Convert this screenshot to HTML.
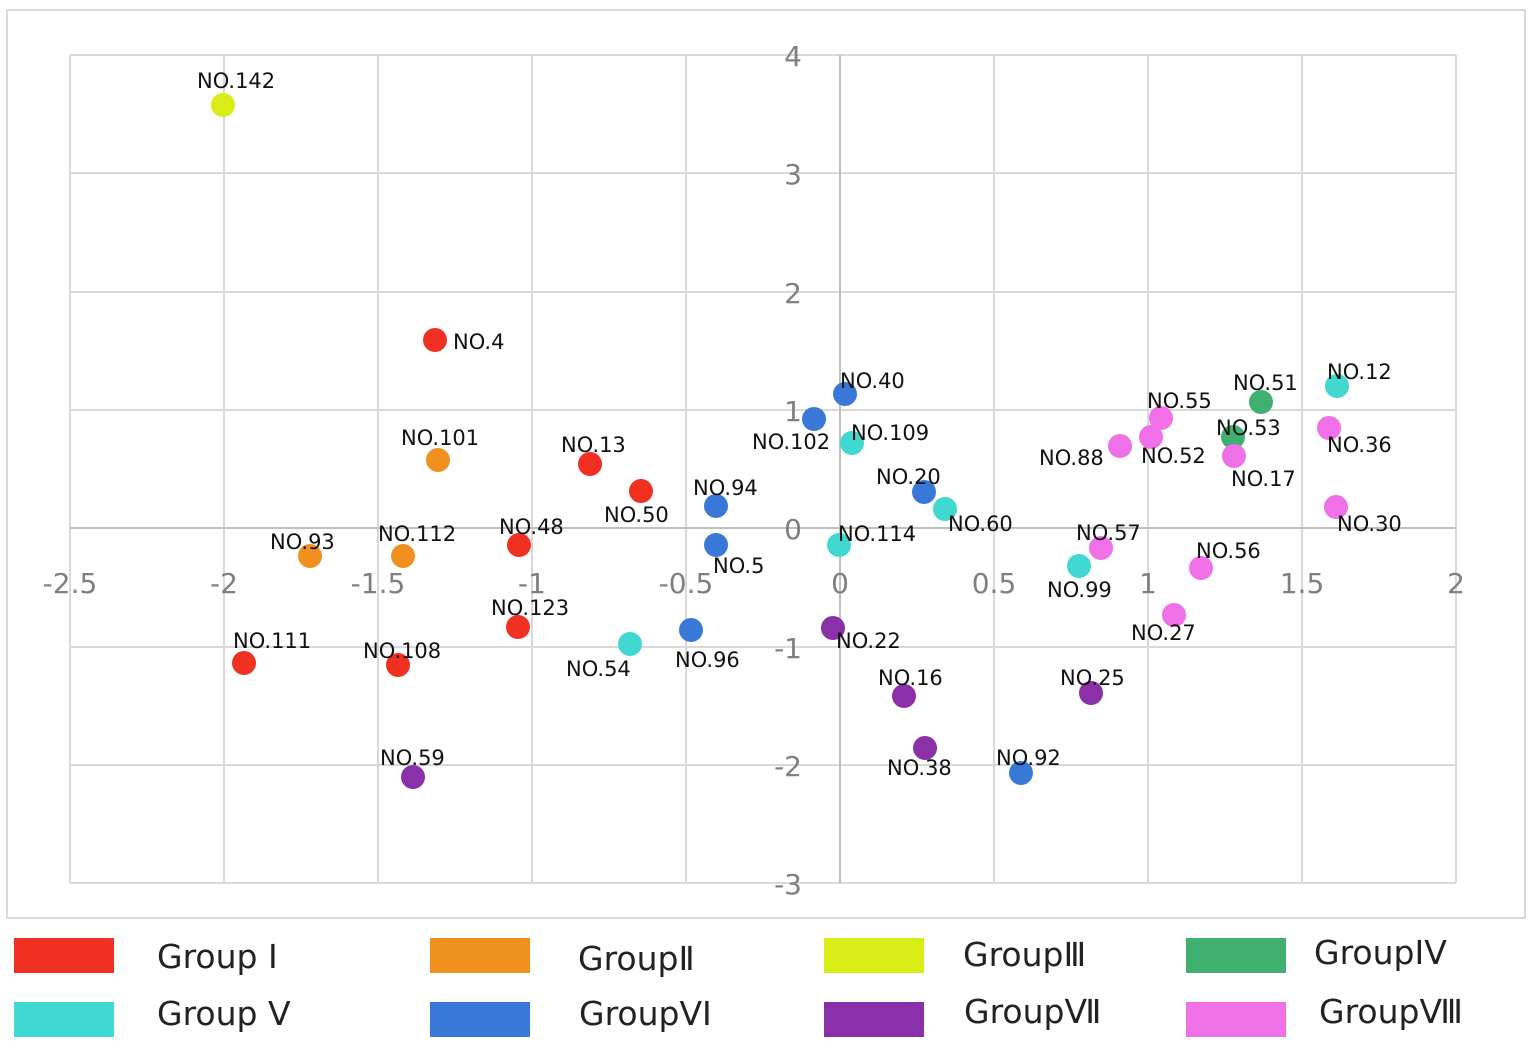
<!DOCTYPE html>
<html><head><meta charset="utf-8"><style>
html,body{margin:0;padding:0;background:#fff;}
svg{display:block;font-family:"DejaVu Sans","Noto Sans CJK SC",sans-serif;}
</style></head><body>
<svg width="1535" height="1044" viewBox="0 0 1535 1044" xmlns="http://www.w3.org/2000/svg">
<rect x="7" y="10" width="1518" height="908" fill="#fff" stroke="#d9d9d9" stroke-width="2"/>
<g stroke="#d9d9d9" stroke-width="2">
<line x1="70" y1="55" x2="70" y2="883"/><line x1="224" y1="55" x2="224" y2="883"/><line x1="378" y1="55" x2="378" y2="883"/><line x1="532" y1="55" x2="532" y2="883"/><line x1="686" y1="55" x2="686" y2="883"/><line x1="994" y1="55" x2="994" y2="883"/><line x1="1148" y1="55" x2="1148" y2="883"/><line x1="1302" y1="55" x2="1302" y2="883"/><line x1="1456" y1="55" x2="1456" y2="883"/>
<line x1="70" y1="55" x2="1456" y2="55"/><line x1="70" y1="173" x2="1456" y2="173"/><line x1="70" y1="292" x2="1456" y2="292"/><line x1="70" y1="410" x2="1456" y2="410"/><line x1="70" y1="647" x2="1456" y2="647"/><line x1="70" y1="765" x2="1456" y2="765"/><line x1="70" y1="883" x2="1456" y2="883"/>
</g>
<g stroke="#bfbfbf" stroke-width="2"><line x1="840" y1="55" x2="840" y2="883"/><line x1="70" y1="528" x2="1456" y2="528"/></g>
<g fill="#7f7f7f" font-size="28" text-anchor="middle">
<text x="70" y="593">-2.5</text><text x="224" y="593">-2</text><text x="378" y="593">-1.5</text><text x="532" y="593">-1</text><text x="686" y="593">-0.5</text><text x="840" y="593">0</text><text x="994" y="593">0.5</text><text x="1148" y="593">1</text><text x="1302" y="593">1.5</text><text x="1456" y="593">2</text>
</g>
<g fill="#7f7f7f" font-size="28" text-anchor="end">
<text x="802" y="66">4</text><text x="802" y="184">3</text><text x="802" y="303">2</text><text x="802" y="421">1</text><text x="802" y="539">0</text><text x="802" y="658">-1</text><text x="802" y="776">-2</text><text x="802" y="894">-3</text>
</g>
<g>
<g fill="#f03020"><circle cx="435" cy="340" r="12"/><circle cx="590" cy="464" r="12"/><circle cx="641" cy="491" r="12"/><circle cx="519" cy="545" r="12"/><circle cx="518" cy="627" r="12"/><circle cx="244" cy="663" r="12"/><circle cx="398" cy="665" r="12"/></g>
<g fill="#f0901e"><circle cx="438" cy="460" r="12"/><circle cx="310" cy="556" r="12"/><circle cx="403" cy="556" r="12"/></g>
<g fill="#d8ec16"><circle cx="223" cy="105" r="12"/></g>
<g fill="#40b070"><circle cx="1261" cy="402" r="12"/><circle cx="1233" cy="437" r="12"/></g>
<g fill="#40d8d0"><circle cx="1337" cy="386" r="12"/><circle cx="852" cy="443" r="12"/><circle cx="945" cy="509" r="12"/><circle cx="839" cy="545" r="12"/><circle cx="1079" cy="566" r="12"/><circle cx="630" cy="644" r="12"/></g>
<g fill="#3a78d8"><circle cx="845" cy="394" r="12"/><circle cx="814" cy="419" r="12"/><circle cx="924" cy="492" r="12"/><circle cx="716" cy="506" r="12"/><circle cx="716" cy="545" r="12"/><circle cx="691" cy="630" r="12"/><circle cx="1021" cy="773" r="12"/></g>
<g fill="#8a30a8"><circle cx="833" cy="628" r="12"/><circle cx="904" cy="696" r="12"/><circle cx="1091" cy="693" r="12"/><circle cx="925" cy="748" r="12"/><circle cx="413" cy="777" r="12"/></g>
<g fill="#f070e8"><circle cx="1161" cy="418" r="12"/><circle cx="1120" cy="446" r="12"/><circle cx="1151" cy="437" r="12"/><circle cx="1234" cy="456" r="12"/><circle cx="1329" cy="428" r="12"/><circle cx="1336" cy="507" r="12"/><circle cx="1101" cy="548" r="12"/><circle cx="1201" cy="568" r="12"/><circle cx="1174" cy="615" r="12"/></g>
</g>
<g fill="#111" font-size="21">
<text x="197" y="88">NO.142</text><text x="453" y="349">NO.4</text><text x="401" y="445">NO.101</text><text x="561" y="452">NO.13</text><text x="604" y="522">NO.50</text><text x="499" y="534">NO.48</text><text x="491" y="615">NO.123</text><text x="233" y="648">NO.111</text><text x="363" y="658">NO.108</text><text x="270" y="549">NO.93</text><text x="378" y="541">NO.112</text><text x="1233" y="390">NO.51</text><text x="1216" y="435">NO.53</text><text x="1327" y="379">NO.12</text><text x="851" y="440">NO.109</text><text x="948" y="531">NO.60</text><text x="838" y="541">NO.114</text><text x="1047" y="597">NO.99</text><text x="566" y="676">NO.54</text><text x="840" y="388">NO.40</text><text x="752" y="449">NO.102</text><text x="876" y="484">NO.20</text><text x="693" y="495">NO.94</text><text x="713" y="573">NO.5</text><text x="675" y="667">NO.96</text><text x="996" y="765">NO.92</text><text x="836" y="648">NO.22</text><text x="878" y="685">NO.16</text><text x="1060" y="685">NO.25</text><text x="887" y="775">NO.38</text><text x="380" y="765">NO.59</text><text x="1147" y="408">NO.55</text><text x="1039" y="465">NO.88</text><text x="1141" y="463">NO.52</text><text x="1231" y="486">NO.17</text><text x="1327" y="452">NO.36</text><text x="1337" y="531">NO.30</text><text x="1076" y="540">NO.57</text><text x="1196" y="558">NO.56</text><text x="1131" y="640">NO.27</text>
</g>
<rect x="14" y="938" width="100" height="35" fill="#f03020"/><rect x="430" y="938" width="100" height="35" fill="#f0901e"/><rect x="824" y="938" width="100" height="35" fill="#d8ec16"/><rect x="1186" y="938" width="100" height="35" fill="#40b070"/>
<rect x="14" y="1002" width="100" height="35" fill="#40d8d0"/><rect x="430" y="1002" width="100" height="35" fill="#3a78d8"/><rect x="824" y="1002" width="100" height="35" fill="#8a30a8"/><rect x="1186" y="1002" width="100" height="35" fill="#f070e8"/>
<g fill="#222" font-size="33">
<text x="157" y="968">Group Ⅰ</text><text x="578" y="970">GroupⅡ</text><text x="963" y="966">GroupⅢ</text><text x="1314" y="964">GroupIV</text>
<text x="157" y="1025">Group V</text><text x="579" y="1025">GroupVI</text><text x="964" y="1023">GroupⅦ</text><text x="1319" y="1023">GroupⅧ</text>
</g>
</svg>
</body></html>
